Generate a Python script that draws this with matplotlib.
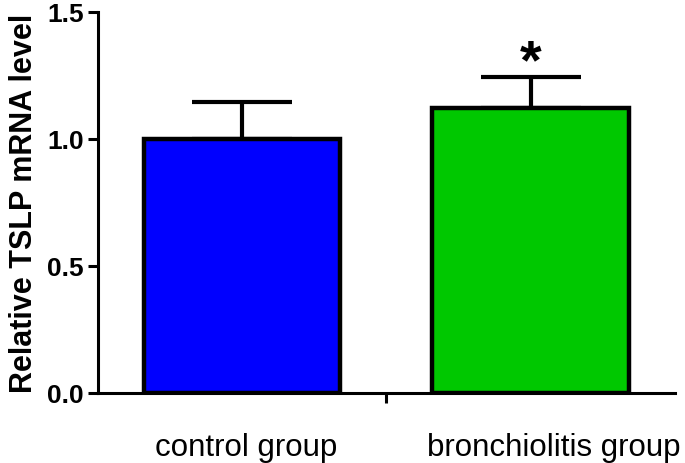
import matplotlib.pyplot as plt
from matplotlib.transforms import ScaledTranslation

groups = ["control group", "bronchiolitis group"]
means = [1.0, 1.122]
errors = [0.146, 0.122]
colors = ["#0000ff", "#00c800"]
yticks = [0.0, 0.5, 1.0, 1.5]

plt.rcParams['font.family'] = ['Liberation Sans', 'DejaVu Sans']

fig = plt.figure(figsize=(6.85, 4.64), dpi=100)
ax = fig.add_axes([0.143, 0.151, 0.842, 0.821])

x = range(len(groups))
ax.bar(x, means, width=0.68, color=colors, edgecolor='black', linewidth=3.2, zorder=3)
ax.errorbar(x, means, yerr=[[0, 0], errors], fmt='none', ecolor='black',
            elinewidth=3, capsize=36, capthick=3, zorder=2)

# significance mark over the second bar
ax.text(1, means[1] + errors[1], '*', ha='center', va='baseline',
        fontsize=40, fontweight='bold')

ax.set_xlim(-0.5, 1.5)
ax.set_ylim(0, 1.5)
ax.set_yticks(yticks)
ax.set_yticklabels([f'{t:.1f}' for t in yticks], fontsize=19, fontweight='bold')
ax.tick_params(axis='y', length=7, width=2.2, pad=3)

ax.set_xticks([0.5])
ax.set_xticklabels([''])
ax.set_xticks(list(x), minor=True)
labels = ax.set_xticklabels(groups, minor=True, fontsize=22.5)
ax.tick_params(axis='x', which='major', length=7, width=2.2)
ax.tick_params(axis='x', which='minor', length=0, pad=28)
# the group labels sit a little right of the bar centres in the original
for lab, dx in zip(labels, [0.04, 0.23]):
    lab.set_transform(lab.get_transform() + ScaledTranslation(dx, 0, fig.dpi_scale_trans))

ax.set_ylabel('Relative TSLP mRNA level', fontsize=22, fontweight='bold', labelpad=6)

for s in ['top', 'right']:
    ax.spines[s].set_visible(False)
for s in ['left', 'bottom']:
    ax.spines[s].set_linewidth(2.2)

fig.savefig('out.png', dpi=100)
